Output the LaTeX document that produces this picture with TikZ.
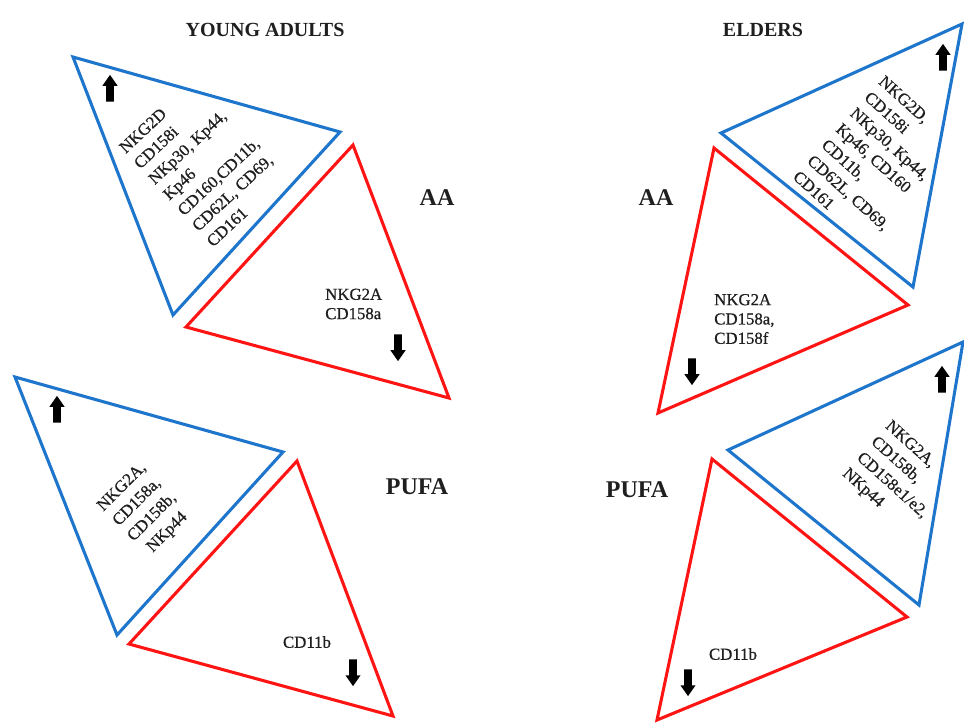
\documentclass[tikz,border=0pt]{standalone}
\usepackage{fontspec}
\setmainfont{Liberation Serif}
\newfontfamily\lblfont{Liberation Serif}[FakeBold=0.6]
\usetikzlibrary{shapes.arrows}
\definecolor{triblue}{RGB}{30,118,204}
\definecolor{trired}{RGB}{255,20,20}
\begin{document}
\begin{tikzpicture}[x=0.75pt,y=-0.75pt,
  bluetri/.style={draw=triblue, line width=2.3pt, line join=miter},
  redtri/.style={draw=trired, line width=2.3pt, line join=miter},
  lbl/.style={font=\lblfont\fontsize{12.6}{16}\selectfont, inner sep=0pt, text=black!88},
  redlbl/.style={font=\lblfont\fontsize{12.6}{14.5}\selectfont, inner sep=0pt, text=black!88, align=left, anchor=west},
  hdr/.style={font=\bfseries\fontsize{15}{18}\selectfont, text=black!88},
  grp/.style={font=\bfseries\fontsize{18}{21}\selectfont, text=black!88},
  arr/.style={single arrow, fill=black, draw=none, minimum height=20pt, inner sep=2.7pt,
    single arrow head extend=2.8pt, single arrow tip angle=70, anchor=center},
  uparr/.style={arr, rotate=90},
  downarr/.style={arr, rotate=-90}]
\useasboundingbox (0,0) rectangle (964,722);
\fill[white] (0,0) rectangle (964,722);

% headers
\node[hdr] (hya) at (265,30) {YOUNG ADULTS};
\node[hdr] (hel) at (763,30) {ELDERS};
\node[grp] (aaL) at (437,198) {AA};
\node[grp] (aaR) at (656,198) {AA};
\node[grp] (puL) at (417,487) {PUFA};
\node[grp] (puR) at (637,490) {PUFA};

% triangle vertices
\coordinate (b1a) at (73,57);   \coordinate (b1b) at (340,132); \coordinate (b1c) at (173,315);
\coordinate (r1a) at (353,145); \coordinate (r1b) at (449,398); \coordinate (r1c) at (186,327);
\coordinate (b2a) at (15,377);  \coordinate (b2b) at (283,452); \coordinate (b2c) at (117,635);
\coordinate (r2a) at (297,461); \coordinate (r2b) at (393,716); \coordinate (r2c) at (129,644);
\coordinate (b3a) at (962,24);  \coordinate (b3b) at (913,287); \coordinate (b3c) at (721,133);
\coordinate (r3a) at (714,148); \coordinate (r3b) at (908,305); \coordinate (r3c) at (658,413);
\coordinate (b4a) at (963,342); \coordinate (b4b) at (919,605); \coordinate (b4c) at (728,450);
\coordinate (r4a) at (712,459); \coordinate (r4b) at (907,617); \coordinate (r4c) at (657,720);

\draw[bluetri] (b1a) -- (b1b) -- (b1c) -- cycle;
\draw[redtri]  (r1a) -- (r1b) -- (r1c) -- cycle;
\draw[bluetri] (b2a) -- (b2b) -- (b2c) -- cycle;
\draw[redtri]  (r2a) -- (r2b) -- (r2c) -- cycle;
\draw[bluetri] (b3a) -- (b3b) -- (b3c) -- cycle;
\draw[redtri]  (r3a) -- (r3b) -- (r3c) -- cycle;
\draw[bluetri] (b4a) -- (b4b) -- (b4c) -- cycle;
\draw[redtri]  (r4a) -- (r4b) -- (r4c) -- cycle;

% arrows
\node[uparr]   (ar1) at (110,91) {};
\node[downarr] (ar2) at (398,345) {};
\node[uparr]   (ar3) at (57,412) {};
\node[downarr] (ar4) at (353,670) {};
\node[uparr]   (ar5) at (943,60) {};
\node[downarr] (ar6) at (692,369) {};
\node[uparr]   (ar7) at (942,382) {};
\node[downarr] (ar8) at (688,680) {};

% labels
\node[lbl, rotate=43, align=left] (t1) at (204,161)
  {NKG2D\\CD158i\\NKp30, Kp44,\\Kp46\\CD160,CD11b,\\CD62L, CD69,\\CD161};
\node[redlbl] (t2) at (325,304) {NKG2A\\CD158a};
\node[lbl, rotate=45, align=center] (t3) at (145,510)
  {NKG2A,\\CD158a,\\CD158b,\\NKp44};
\node[lbl] (t4) at (307,642) {CD11b};
\node[lbl, rotate=-42, align=left] (t5) at (877,161)
  {NKG2D,\\CD158i\\NKp30, Kp44,\\Kp46, CD160\\CD11b,\\CD62L, CD69,\\CD161};
\node[redlbl] (t6) at (714,319) {NKG2A\\CD158a,\\CD158f};
\node[lbl, rotate=-42, align=left] (t7) at (899,478)
  {NKG2A,\\CD158b,\\CD158e1/e2,\\NKp44};
\node[lbl] (t8) at (733,654) {CD11b};
\end{tikzpicture}
\end{document}
